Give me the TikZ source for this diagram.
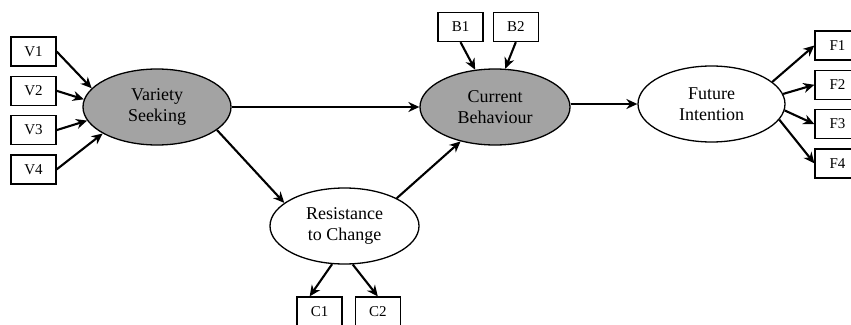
\documentclass[tikz,border=0pt]{standalone}
\usepackage{fontspec}
\setmainfont{Liberation Serif}
\usepackage{tikz}
\usetikzlibrary{positioning,shapes.geometric,arrows.meta}

\begin{document}
\begin{tikzpicture}[x=1pt,y=-1pt,>={Stealth[length=11pt,width=10pt]},
	latent/.style={shape=ellipse,draw,line width=1.3pt,minimum width=148pt,minimum height=76pt,inner sep=0pt,align=center,font=\fontsize{18}{21}\selectfont},
	shaded/.style={latent,fill=gray!72},
	item/.style={shape=rectangle,draw,line width=1.3pt,minimum width=45pt,minimum height=29pt,inner sep=0pt,font=\fontsize{15}{17}\selectfont},
	path/.style={->,line width=2.1pt},]
	\useasboundingbox (0,0) rectangle (851,324);
	% create latent variables
	\node (VS) [shaded] at (157,107) {Variety\\Seeking};
	\node (CB) [shaded,minimum width=150pt] at (495,107) {Current\\Behaviour};
	\node (FI) [latent,minimum width=147pt] at (711.5,104) {Future\\Intention};
	\node (RC) [latent,minimum width=149pt] at (344.5,226) {Resistance\\to Change};

	% create indicators
	\node (V1) [item] at (33.5,51.5) {V1};
	\node (V2) [item,below = 9pt of V1] {V2};
	\node (V3) [item,below = 9pt of V2] {V3};
	\node (V4) [item,below = 9pt of V3] {V4};
	\node (B1) [item] at (460.5,27) {B1};
	\node (B2) [item,right = 9pt of B1] {B2};
	\node (F1) [item] at (837.5,45.5) {F1};
	\node (F2) [item,below = 9pt of F1] {F2};
	\node (F3) [item,below = 9pt of F2] {F3};
	\node (F4) [item,below = 9pt of F3] {F4};
	\node (C1) [item] at (319.5,311.5) {C1};
	\node (C2) [item,right = 12pt of C1] {C2};

	% measurement paths
	\draw[path] (V1.east) to (VS.164);
	\draw[path] (V2.east) to (VS.174);
	\draw[path] (V3.east) to (VS.191);
	\draw[path] (V4.east) to (VS.206);
	\draw[path] (B1.south) to (CB.118);
	\draw[path] (B2.south) to (CB.75);
	\draw[path] (FI.20) to (F1.west);
	\draw[path] (FI.8) to (F2.west);
	\draw[path] (FI.-5) to (F3.west);
	\draw[path] (FI.-13) to (F4.west);
	\draw[path] (RC.252) to (C1.123);
	\draw[path] (RC.282) to (C2.north);

	% structural paths
	\draw[path] (VS.east) to (CB.west);
	\draw[path] (VS.-21) to (RC.159);
	\draw[path] (RC.28) to (CB.225);
	\draw[path] (CB.east |- FI.west) to (FI.west);
\end{tikzpicture}
\end{document}
